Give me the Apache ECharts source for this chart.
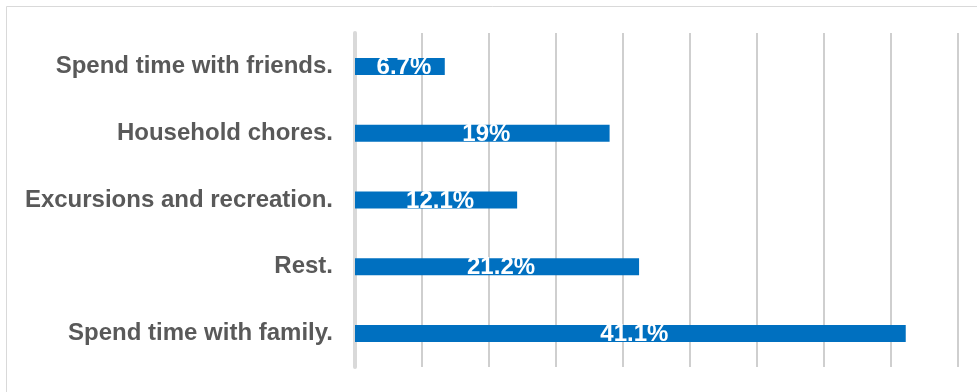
<!DOCTYPE html>
<html>
<head>
<meta charset="utf-8">
<script src="https://cdn.jsdelivr.net/npm/echarts@6/dist/echarts.min.js"></script>
<style>
html,body{margin:0;padding:0;background:#fff;}
#chart{width:977px;height:392px;}
</style>
</head>
<body>
<div id="chart"></div>
<script>
const categories = ["Spend time with friends.", "Household chores.", "Excursions and recreation.", "Rest.", "Spend time with family."];
const values = [6.7, 19, 12.1, 21.2, 41.1];
const valueLabels = ["6.7%", "19%", "12.1%", "21.2%", "41.1%"];

const chart = echarts.init(document.getElementById('chart'), null, {renderer: 'canvas'});
chart.setOption({
  animation: false,
  backgroundColor: '#ffffff',
  graphic: [{
    type: 'rect', left: 4, top: 4, z: -10,
    shape: {width: 1100, height: 600},
    style: {fill: 'none', stroke: '#d9d9d9', lineWidth: 1}
  }],
  grid: {left: 355, right: 19, top: 33, bottom: 25, containLabel: false},
  xAxis: {
    type: 'value', min: 0, max: 45, interval: 5,
    axisLabel: {show: false}, axisTick: {show: false}, axisLine: {show: false},
    splitLine: {show: true, lineStyle: {color: '#cfcfcf', width: 2}}
  },
  yAxis: {
    type: 'category', data: categories, inverse: true,
    axisTick: {show: false},
    axisLine: {show: true, lineStyle: {color: '#d9d9d9', width: 4}},
    axisLabel: {color: '#595959', fontWeight: 'bold', fontSize: 24, fontFamily: 'Liberation Sans, Arial, sans-serif', margin: 22}
  },
  series: [{
    type: 'bar', data: values, barWidth: 17,
    itemStyle: {color: '#0070C0'},
    label: {
      show: true, position: 'inside', color: '#ffffff', fontWeight: 'bold', fontSize: 24,
      fontFamily: 'Liberation Sans, Arial, sans-serif', offset: [4, 1],
      formatter: p => valueLabels[p.dataIndex]
    }
  }]
});
</script>
</body>
</html>
